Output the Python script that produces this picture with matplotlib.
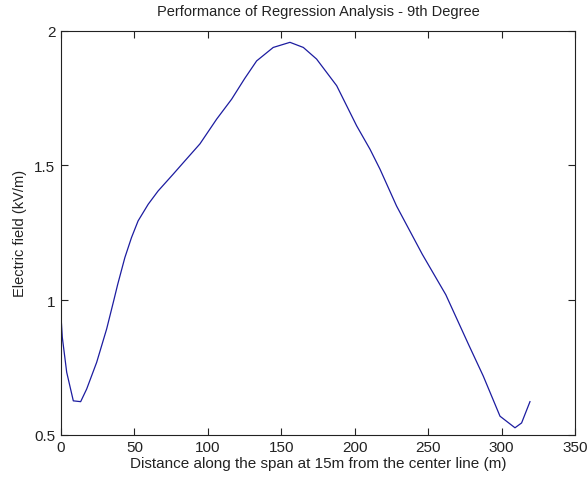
import matplotlib
matplotlib.use("Agg")
import matplotlib.pyplot as plt
from matplotlib.ticker import FuncFormatter

# ---- data ------------------------------------------------------------------
distance = [0.2, 0.9, 3.9, 8.4, 13.4, 17.5, 24.3, 31.1, 36.0, 38.6, 43.5,
            48.0, 52.5, 59.4, 66.1, 76.3, 83.4, 94.6, 106.0, 116.2, 125.0,
            133.2, 144.5, 155.9, 165.0, 174.0, 187.7, 201.3, 210.4, 217.2,
            228.5, 246.0, 262.0, 277.5, 287.5, 298.9, 309.1, 313.6, 319.3]
efield = [0.924, 0.862, 0.732, 0.626, 0.623, 0.670, 0.769, 0.893, 1.000,
          1.058, 1.158, 1.232, 1.294, 1.356, 1.405, 1.467, 1.511, 1.580,
          1.672, 1.746, 1.822, 1.888, 1.938, 1.957, 1.938, 1.895, 1.796,
          1.647, 1.560, 1.486, 1.349, 1.170, 1.020, 0.835, 0.718, 0.569,
          0.526, 0.544, 0.623]

x_ticks = [0, 50, 100, 150, 200, 250, 300, 350]
y_ticks = [0.5, 1.0, 1.5, 2.0]

TITLE = "Performance of Regression Analysis - 9th Degree"
XLABEL = "Distance along the span at 15m from the center line (m)"
YLABEL = "Electric field (kV/m)"

plt.rcParams.update({
    "font.family": ["Liberation Sans", "DejaVu Sans"],
    "font.size": 10,
})

fig = plt.figure(figsize=(5.88, 4.81), dpi=100)
ax = fig.add_axes([0.1037, 0.094, 0.8743, 0.840])

ax.plot(distance, efield, color="#1c1ca0", linewidth=0.9)

ax.set_xlim(0, 350)
ax.set_ylim(0.5, 2.0)
ax.set_xticks(x_ticks)
ax.set_yticks(y_ticks)
ax.yaxis.set_major_formatter(FuncFormatter(lambda v, _: f"{v:g}"))

# MATLAB-ish look: inward ticks on all four sides, boxed axes
ax.tick_params(direction="in", top=True, right=True, length=5, width=0.8,
               colors="#222222", labelsize=11, pad=4)
for side in ax.spines.values():
    side.set_linewidth(0.8)
    side.set_color("#222222")

ax.set_title(TITLE, fontsize=10.5, color="#222222", pad=11)
ax.set_xlabel(XLABEL, fontsize=11, color="#222222", labelpad=1)
ax.set_ylabel(YLABEL, fontsize=10.5, color="#222222", labelpad=5)

fig.savefig("out.png", dpi=100)
